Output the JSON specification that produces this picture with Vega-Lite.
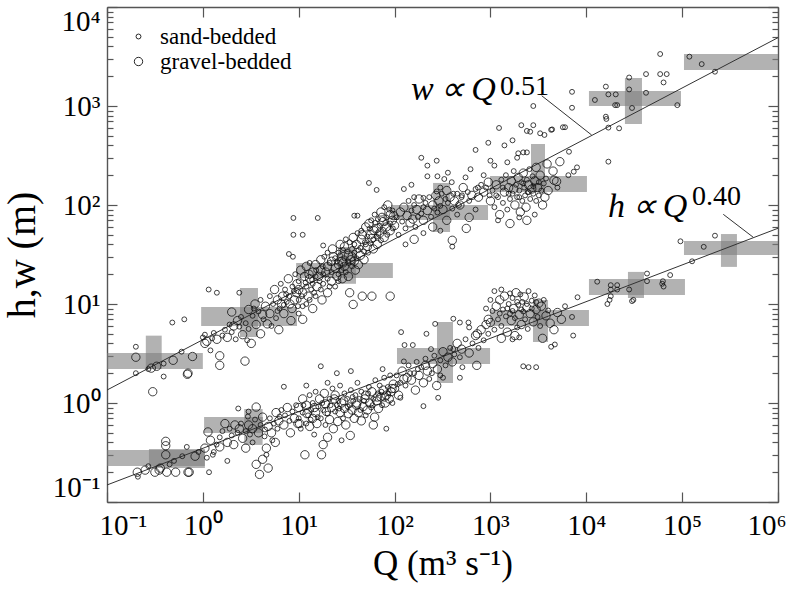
{
"$schema":"https://vega.github.io/schema/vega-lite/v6.json",
"width":671,"height":495,
"autosize":{"type":"none"},
"padding":{"left":107,"top":7,"right":10,"bottom":91},
"background":"white",
"config":{"view":{"stroke":null},"font":"Liberation Serif",
"axis":{"grid":false,"domainColor":"#555","domainWidth":1.4,"tickColor":"#555","tickWidth":1.2,"labelFont":"Liberation Serif","labelColor":"#000","labelFontSize":29,"titleFont":"Liberation Serif","titleColor":"#000","titleFontWeight":"normal","titleFontSize":35}},
"datasets":{
"bars":[
{"x1":0.1,"x2":1.0,"y1":2.2,"y2":3.2},{"x1":0.254,"x2":0.372,"y1":2.2,"y2":4.79},
{"x1":0.96,"x2":9.6,"y1":6.0,"y2":9.3},{"x1":2.44,"x2":3.76,"y1":4.64,"y2":14.5},
{"x1":9.4,"x2":96,"y1":18.3,"y2":25.9},{"x1":25.7,"x2":39.6,"y1":16,"y2":37.7},
{"x1":92,"x2":944,"y1":70.5,"y2":100},{"x1":252,"x2":379,"y1":53.4,"y2":167},
{"x1":991,"x2":10160,"y1":135,"y2":196},{"x1":2650,"x2":3710,"y1":135,"y2":413},
{"x1":10660,"x2":97300,"y1":1000,"y2":1418},{"x1":25300,"x2":38100,"y1":658,"y2":1918},
{"x1":104500,"x2":1000000,"y1":2310,"y2":3352},
{"x1":0.1,"x2":1.05,"y1":0.231,"y2":0.335},{"x1":0.274,"x2":1.05,"y1":0.221,"y2":0.343},
{"x1":1.03,"x2":4.24,"y1":0.498,"y2":0.722},{"x1":2.7,"x2":4.2,"y1":0.377,"y2":0.869},
{"x1":106,"x2":991,"y1":2.48,"y2":3.59},{"x1":277,"x2":407,"y1":1.59,"y2":6.58},
{"x1":991,"x2":10660,"y1":6.0,"y2":8.69},{"x1":2780,"x2":3990,"y1":4.13,"y2":11.0},
{"x1":10660,"x2":107000,"y1":12.3,"y2":17.9},{"x1":27200,"x2":40000,"y1":11.5,"y2":21.1},
{"x1":104500,"x2":1000000,"y1":31.3,"y2":43.3},{"x1":254000,"x2":373000,"y1":23.7,"y2":50.9}
],
"lines":[
{"x1":0.1,"y1":1.352,"x2":1000000,"y2":4900},
{"x1":0.1,"y1":0.1486,"x2":1000000,"y2":58.2},
{"x1":3427,"y1":1270,"x2":11380,"y2":509},
{"x1":268600,"y1":80.5,"x2":552000,"y2":47.2}
],
"lab":[{"q":148,"v":1150,"s":"w\u2009∝\u2009Q"},{"q":16870,"v":75.7,"s":"h\u2009∝\u2009Q"}],
"sup":[{"q":1260,"v":1291,"s":"0.51"},{"q":126800,"v":100,"s":"0.40"}],
"pts":[
{"q":0.2,"v":2.9,"t":"g"},{"q":0.2,"v":3.7,"t":"s"},{"q":0.2,"v":2.0,"t":"s"},{"q":0.29,"v":2.25,"t":"g"},{"q":0.33,"v":2.35,"t":"g"},{"q":0.39,"v":2.5,"t":"s"},{"q":0.39,"v":1.85,"t":"s"},{"q":0.49,"v":2.7,"t":"g"},{"q":0.6,"v":3.3,"t":"s"},{"q":0.78,"v":2.95,"t":"g"},{"q":0.69,"v":1.95,"t":"g"},{"q":0.7,"v":2.0,"t":"g"},{"q":0.3,"v":1.3,"t":"g"},{"q":0.48,"v":6.5,"t":"s"},{"q":0.64,"v":7.0,"t":"s"},{"q":0.27,"v":2.2,"t":"s"},
{"q":1.0,"v":4.6,"t":"s"},{"q":1.05,"v":4.9,"t":"s"},{"q":1.1,"v":4.2,"t":"g"},{"q":1.2,"v":3.4,"t":"s"},{"q":1.3,"v":5.1,"t":"s"},{"q":1.4,"v":4.4,"t":"g"},{"q":1.5,"v":3.0,"t":"g"},{"q":1.5,"v":2.4,"t":"g"},{"q":1.6,"v":4.8,"t":"s"},{"q":1.7,"v":5.5,"t":"s"},{"q":1.8,"v":4.6,"t":"g"},{"q":1.9,"v":6.2,"t":"s"},{"q":2.0,"v":8.3,"t":"g"},{"q":2.0,"v":5.2,"t":"s"},{"q":2.2,"v":4.4,"t":"s"},{"q":2.3,"v":6.8,"t":"g"},{"q":2.4,"v":5.9,"t":"s"},{"q":2.5,"v":7.4,"t":"s"},{"q":2.6,"v":4.9,"t":"g"},{"q":2.75,"v":2.65,"t":"g"},{"q":2.8,"v":6.4,"t":"s"},{"q":3.0,"v":8.8,"t":"g"},{"q":3.0,"v":5.6,"t":"s"},{"q":3.2,"v":4.0,"t":"g"},{"q":3.3,"v":7.6,"t":"s"},{"q":3.5,"v":10,"t":"g"},{"q":3.6,"v":6.2,"t":"g"},{"q":3.8,"v":8.4,"t":"s"},{"q":4.0,"v":5.0,"t":"g"},{"q":4.0,"v":11,"t":"s"},{"q":4.3,"v":7.0,"t":"s"},{"q":4.5,"v":9.5,"t":"g"},{"q":4.7,"v":6.3,"t":"g"},{"q":5.0,"v":12,"t":"s"},{"q":5.0,"v":8.0,"t":"g"},{"q":5.4,"v":10,"t":"s"},{"q":5.6,"v":14,"t":"g"},{"q":5.8,"v":7.2,"t":"s"},{"q":6.0,"v":11,"t":"g"},{"q":6.3,"v":9.0,"t":"s"},{"q":6.5,"v":16,"t":"s"},{"q":6.8,"v":12,"t":"g"},{"q":7.0,"v":8.0,"t":"g"},{"q":7.2,"v":14,"t":"s"},{"q":7.5,"v":10.5,"t":"s"},{"q":7.8,"v":18,"t":"g"},{"q":8.0,"v":12,"t":"s"},{"q":8.3,"v":6.8,"t":"g"},{"q":8.6,"v":15,"t":"s"},{"q":9.0,"v":11,"t":"g"},{"q":9.2,"v":20,"t":"s"},{"q":9.5,"v":13,"t":"g"},{"q":9.8,"v":9.5,"t":"s"},{"q":1.15,"v":14,"t":"s"},{"q":1.4,"v":13,"t":"s"},{"q":2.4,"v":13,"t":"s"},{"q":1.05,"v":4.0,"t":"g"},{"q":1.25,"v":4.5,"t":"s"},{"q":2.1,"v":6.0,"t":"g"},{"q":3.4,"v":9.0,"t":"s"},{"q":4.2,"v":7.8,"t":"g"},{"q":5.2,"v":6.0,"t":"s"},{"q":6.2,"v":5.5,"t":"g"},{"q":7.0,"v":9.8,"t":"s"},{"q":8.5,"v":9.0,"t":"g"},{"q":2.9,"v":4.3,"t":"s"},
{"q":6,"v":8.5,"t":"s"},{"q":6.6,"v":10,"t":"g"},{"q":7.4,"v":12.5,"t":"s"},{"q":8.1,"v":10,"t":"g"},{"q":8.9,"v":13.5,"t":"s"},{"q":9.6,"v":16,"t":"g"},{"q":10.8,"v":12,"t":"s"},{"q":11.8,"v":16.5,"t":"s"},{"q":12.8,"v":20,"t":"g"},{"q":13.8,"v":17.5,"t":"s"},{"q":15.2,"v":22,"t":"s"},{"q":16.2,"v":19,"t":"g"},{"q":17.8,"v":24,"t":"s"},{"q":19.2,"v":21,"t":"g"},{"q":21,"v":26,"t":"s"},{"q":23,"v":30,"t":"g"},{"q":25,"v":27,"t":"s"},{"q":27,"v":31,"t":"s"},{"q":29,"v":26,"t":"g"},{"q":32,"v":34,"t":"s"},{"q":35,"v":28,"t":"g"},{"q":38,"v":40,"t":"s"},{"q":42,"v":35,"t":"s"},{"q":46,"v":50,"t":"g"},{"q":50,"v":40,"t":"s"},{"q":55,"v":58,"t":"s"},{"q":58,"v":46,"t":"g"},{"q":63,"v":66,"t":"s"},{"q":68,"v":52,"t":"s"},{"q":74,"v":75,"t":"g"},{"q":80,"v":66,"t":"s"},{"q":88,"v":90,"t":"s"},{"q":98,"v":78,"t":"g"},
{"q":10,"v":8,"t":"s"},{"q":10,"v":11,"t":"s"},{"q":10,"v":14,"t":"g"},{"q":10,"v":17,"t":"s"},{"q":10.5,"v":22,"t":"g"},{"q":11,"v":9.5,"t":"s"},{"q":11,"v":13,"t":"g"},{"q":11.5,"v":19,"t":"g"},{"q":11,"v":7,"t":"g"},{"q":12,"v":10,"t":"s"},{"q":12,"v":15,"t":"s"},{"q":12,"v":24,"t":"g"},{"q":12.5,"v":12,"t":"g"},{"q":13,"v":11,"t":"s"},{"q":13,"v":18,"t":"g"},{"q":13.5,"v":14,"t":"s"},{"q":13,"v":26,"t":"s"},{"q":14,"v":9,"t":"g"},{"q":14,"v":16,"t":"s"},{"q":14,"v":21,"t":"g"},{"q":14.5,"v":13,"t":"s"},{"q":15,"v":12,"t":"s"},{"q":15,"v":19,"t":"s"},{"q":15,"v":25,"t":"g"},{"q":15.5,"v":15,"t":"g"},{"q":17,"v":14,"t":"s"},{"q":17,"v":22,"t":"g"},{"q":16.5,"v":17,"t":"s"},{"q":17,"v":28,"t":"g"},{"q":17.5,"v":11,"t":"g"},{"q":18,"v":16,"t":"s"},{"q":18,"v":20,"t":"s"},{"q":18.5,"v":30,"t":"s"},{"q":20,"v":13,"t":"g"},{"q":20,"v":18,"t":"s"},{"q":20,"v":24,"t":"g"},{"q":20,"v":33,"t":"s"},{"q":21,"v":15,"t":"s"},{"q":22,"v":17,"t":"g"},{"q":22,"v":21,"t":"s"},{"q":22,"v":27,"t":"g"},{"q":22.5,"v":36,"t":"g"},{"q":24,"v":15,"t":"s"},{"q":24,"v":23,"t":"g"},{"q":24,"v":29,"t":"s"},{"q":25,"v":19,"t":"g"},{"q":26,"v":20,"t":"s"},{"q":26,"v":25,"t":"g"},{"q":26,"v":33,"t":"s"},{"q":27,"v":40,"t":"g"},{"q":26,"v":17,"t":"s"},{"q":28,"v":22,"t":"s"},{"q":28,"v":27,"t":"g"},{"q":28.5,"v":18,"t":"g"},{"q":29,"v":35,"t":"s"},{"q":30,"v":24,"t":"g"},{"q":30,"v":29,"t":"s"},{"q":31,"v":21,"t":"s"},{"q":30,"v":38,"t":"g"},{"q":31,"v":45,"t":"s"},{"q":33,"v":19,"t":"g"},{"q":33,"v":26,"t":"s"},{"q":33,"v":31,"t":"g"},{"q":34,"v":42,"t":"s"},{"q":36,"v":24,"t":"s"},{"q":36,"v":30,"t":"g"},{"q":36,"v":36,"t":"s"},{"q":37,"v":47,"t":"g"},{"q":38,"v":27,"t":"g"},{"q":38,"v":33,"t":"s"},{"q":39,"v":22,"t":"g"},{"q":37,"v":9.9,"t":"g"},{"q":40,"v":29,"t":"s"},{"q":40,"v":40,"t":"g"},{"q":41,"v":52,"t":"s"},{"q":42,"v":25,"t":"g"},{"q":44,"v":31,"t":"g"},{"q":44,"v":37,"t":"s"},{"q":45,"v":45,"t":"g"},{"q":45,"v":55,"t":"s"},{"q":48,"v":34,"t":"s"},{"q":48,"v":28,"t":"g"},{"q":49,"v":42,"t":"s"},{"q":50,"v":60,"t":"g"},{"q":52,"v":38,"t":"g"},{"q":52,"v":48,"t":"s"},{"q":53,"v":33,"t":"s"},{"q":54,"v":65,"t":"g"},{"q":56,"v":41,"t":"s"},{"q":56,"v":50,"t":"g"},{"q":57,"v":70,"t":"s"},{"q":58,"v":12,"t":"g"},{"q":60,"v":36,"t":"g"},{"q":60,"v":45,"t":"s"},{"q":61,"v":55,"t":"g"},{"q":62,"v":80,"t":"s"},{"q":65,"v":48,"t":"s"},{"q":65,"v":58,"t":"g"},{"q":66,"v":40,"t":"g"},{"q":67,"v":72,"t":"s"},{"q":70,"v":52,"t":"g"},{"q":70,"v":62,"t":"s"},{"q":72,"v":44,"t":"s"},{"q":72,"v":85,"t":"g"},{"q":76,"v":56,"t":"s"},{"q":76,"v":68,"t":"g"},{"q":78,"v":47,"t":"g"},{"q":78,"v":95,"t":"s"},{"q":82,"v":60,"t":"g"},{"q":82,"v":75,"t":"s"},{"q":84,"v":50,"t":"s"},{"q":85,"v":100,"t":"g"},{"q":90,"v":65,"t":"s"},{"q":90,"v":55,"t":"g"},{"q":90,"v":80,"t":"g"},{"q":90,"v":12,"t":"g"},{"q":95,"v":70,"t":"g"},{"q":95,"v":88,"t":"s"},{"q":96,"v":58,"t":"s"},{"q":46,"v":12,"t":"g"},{"q":34,"v":13,"t":"g"},
{"q":8.8,"v":74,"t":"s"},{"q":8.8,"v":50,"t":"s"},{"q":11,"v":50,"t":"s"},{"q":15.8,"v":74,"t":"s"},{"q":18,"v":39,"t":"s"},{"q":7.9,"v":32,"t":"s"},{"q":8.7,"v":30,"t":"s"},{"q":38,"v":78,"t":"s"},{"q":41,"v":78,"t":"s"},{"q":54,"v":167,"t":"s"},{"q":65,"v":142,"t":"s"},
{"q":125,"v":145,"t":"s"},{"q":190,"v":300,"t":"s"},{"q":220,"v":250,"t":"s"},{"q":275,"v":280,"t":"s"},{"q":220,"v":195,"t":"s"},{"q":280,"v":195,"t":"s"},{"q":330,"v":183,"t":"s"},{"q":360,"v":212,"t":"s"},{"q":395,"v":170,"t":"s"},{"q":200,"v":118,"t":"s"},{"q":410,"v":130,"t":"s"},{"q":505,"v":125,"t":"s"},{"q":700,"v":360,"t":"s"},{"q":950,"v":425,"t":"s"},{"q":275,"v":137,"t":"s"},{"q":150,"v":160,"t":"s"},{"q":160,"v":120,"t":"s"},{"q":300,"v":150,"t":"s"},{"q":620,"v":230,"t":"s"},{"q":850,"v":200,"t":"s"},{"q":470,"v":100,"t":"s"},{"q":550,"v":190,"t":"s"},{"q":740,"v":150,"t":"s"},
{"q":100,"v":62,"t":"g"},{"q":105,"v":75,"t":"s"},{"q":110,"v":50,"t":"s"},{"q":115,"v":85,"t":"g"},{"q":120,"v":68,"t":"s"},{"q":125,"v":95,"t":"g"},{"q":130,"v":58,"t":"s"},{"q":135,"v":78,"t":"g"},{"q":140,"v":110,"t":"s"},{"q":145,"v":66,"t":"g"},{"q":150,"v":88,"t":"s"},{"q":155,"v":72,"t":"g"},{"q":160,"v":100,"t":"s"},{"q":165,"v":60,"t":"s"},{"q":170,"v":90,"t":"g"},{"q":175,"v":76,"t":"s"},{"q":180,"v":115,"t":"g"},{"q":190,"v":82,"t":"s"},{"q":200,"v":95,"t":"s"},{"q":200,"v":70,"t":"g"},{"q":210,"v":105,"t":"s"},{"q":220,"v":88,"t":"g"},{"q":230,"v":120,"t":"s"},{"q":240,"v":76,"t":"s"},{"q":250,"v":100,"t":"g"},{"q":260,"v":92,"t":"s"},{"q":270,"v":125,"t":"g"},{"q":280,"v":84,"t":"s"},{"q":290,"v":110,"t":"g"},{"q":300,"v":98,"t":"s"},{"q":310,"v":130,"t":"s"},{"q":320,"v":90,"t":"g"},{"q":340,"v":115,"t":"s"},{"q":350,"v":140,"t":"g"},{"q":360,"v":105,"t":"s"},{"q":380,"v":120,"t":"g"},{"q":400,"v":92,"t":"s"},{"q":400,"v":44,"t":"g"},{"q":400,"v":38,"t":"s"},{"q":420,"v":110,"t":"g"},{"q":450,"v":130,"t":"s"},{"q":480,"v":100,"t":"g"},{"q":500,"v":120,"t":"s"},{"q":520,"v":150,"t":"g"},{"q":560,"v":58,"t":"g"},{"q":580,"v":135,"t":"s"},{"q":600,"v":110,"t":"s"},{"q":640,"v":125,"t":"g"},{"q":700,"v":145,"t":"s"},{"q":750,"v":120,"t":"g"},{"q":800,"v":160,"t":"s"},{"q":850,"v":135,"t":"g"},{"q":900,"v":150,"t":"s"},{"q":950,"v":170,"t":"g"},{"q":980,"v":125,"t":"s"},{"q":130,"v":40,"t":"s"},{"q":160,"v":45,"t":"g"},{"q":200,"v":52,"t":"s"},{"q":250,"v":60,"t":"g"},{"q":300,"v":55,"t":"s"},{"q":350,"v":70,"t":"g"},{"q":450,"v":80,"t":"s"},{"q":600,"v":75,"t":"g"},{"q":700,"v":90,"t":"s"},
{"q":1000,"v":110,"t":"g"},{"q":1050,"v":140,"t":"s"},{"q":1100,"v":95,"t":"s"},{"q":1150,"v":160,"t":"g"},{"q":1200,"v":120,"t":"s"},{"q":1250,"v":80,"t":"g"},{"q":1300,"v":180,"t":"s"},{"q":1350,"v":105,"t":"s"},{"q":1400,"v":135,"t":"g"},{"q":1450,"v":200,"t":"s"},{"q":1500,"v":90,"t":"s"},{"q":1550,"v":150,"t":"g"},{"q":1600,"v":115,"t":"s"},{"q":1650,"v":175,"t":"g"},{"q":1700,"v":130,"t":"s"},{"q":1750,"v":220,"t":"s"},{"q":1800,"v":100,"t":"g"},{"q":1850,"v":160,"t":"s"},{"q":1900,"v":120,"t":"s"},{"q":1950,"v":190,"t":"g"},{"q":2000,"v":140,"t":"s"},{"q":2050,"v":85,"t":"g"},{"q":2100,"v":170,"t":"s"},{"q":2150,"v":110,"t":"s"},{"q":2200,"v":210,"t":"g"},{"q":2250,"v":150,"t":"s"},{"q":2300,"v":125,"t":"s"},{"q":2350,"v":95,"t":"g"},{"q":2400,"v":180,"t":"s"},{"q":2450,"v":135,"t":"s"},{"q":2500,"v":160,"t":"g"},{"q":2550,"v":230,"t":"s"},{"q":2600,"v":115,"t":"s"},{"q":2700,"v":145,"t":"g"},{"q":2750,"v":195,"t":"s"},{"q":2800,"v":130,"t":"s"},{"q":2900,"v":175,"t":"g"},{"q":3000,"v":110,"t":"s"},{"q":3100,"v":150,"t":"g"},{"q":3200,"v":125,"t":"s"},{"q":3300,"v":200,"t":"g"},{"q":3400,"v":140,"t":"s"},{"q":3500,"v":100,"t":"g"},{"q":3600,"v":165,"t":"s"},{"q":3700,"v":120,"t":"g"},{"q":3800,"v":185,"t":"s"},{"q":4000,"v":140,"t":"g"},{"q":1200,"v":70,"t":"s"},{"q":1600,"v":65,"t":"g"},{"q":2000,"v":75,"t":"s"},{"q":2400,"v":70,"t":"g"},{"q":2900,"v":80,"t":"s"},{"q":1100,"v":250,"t":"s"},{"q":1500,"v":270,"t":"s"},{"q":1900,"v":300,"t":"s"},{"q":1950,"v":333,"t":"s"},{"q":2200,"v":340,"t":"s"},{"q":2400,"v":340,"t":"s"},{"q":2600,"v":550,"t":"s"},{"q":2800,"v":640,"t":"s"},{"q":2100,"v":640,"t":"s"},{"q":2400,"v":560,"t":"s"},{"q":3300,"v":530,"t":"s"},{"q":3660,"v":510,"t":"s"},{"q":4300,"v":575,"t":"s"},{"q":5700,"v":610,"t":"s"},{"q":4400,"v":580,"t":"s"},{"q":6000,"v":610,"t":"s"},{"q":1230,"v":600,"t":"s"},{"q":2800,"v":1000,"t":"s"},{"q":7100,"v":1390,"t":"s"},{"q":7100,"v":960,"t":"s"},{"q":6600,"v":345,"t":"s"},{"q":7400,"v":217,"t":"s"},{"q":5300,"v":274,"t":"g"},{"q":4900,"v":173,"t":"g"},{"q":4600,"v":178,"t":"g"},{"q":8000,"v":240,"t":"s"},{"q":3000,"v":240,"t":"g"},{"q":3900,"v":260,"t":"g"},{"q":1400,"v":400,"t":"s"},{"q":1700,"v":450,"t":"s"},{"q":1000,"v":280,"t":"s"},{"q":4500,"v":220,"t":"g"},{"q":5000,"v":150,"t":"s"},{"q":6500,"v":200,"t":"s"},
{"q":1150,"v":125,"t":"s"},{"q":1350,"v":150,"t":"s"},{"q":1550,"v":130,"t":"s"},{"q":1750,"v":145,"t":"g"},{"q":2000,"v":120,"t":"s"},{"q":2200,"v":165,"t":"s"},{"q":2500,"v":135,"t":"s"},{"q":2800,"v":155,"t":"s"},{"q":3200,"v":170,"t":"s"},
{"q":16000,"v":1570,"t":"s"},{"q":12300,"v":1150,"t":"s"},{"q":17000,"v":1310,"t":"s"},{"q":20300,"v":1310,"t":"s"},{"q":20000,"v":1020,"t":"s"},{"q":21000,"v":1020,"t":"s"},{"q":28000,"v":1940,"t":"s"},{"q":28000,"v":1470,"t":"s"},{"q":30000,"v":955,"t":"s"},{"q":42000,"v":2100,"t":"s"},{"q":42000,"v":1360,"t":"s"},{"q":59000,"v":3350,"t":"s"},{"q":59000,"v":2100,"t":"s"},{"q":69000,"v":2100,"t":"s"},{"q":64000,"v":1730,"t":"s"},{"q":89000,"v":1020,"t":"s"},{"q":16000,"v":780,"t":"s"},{"q":16200,"v":740,"t":"s"},{"q":17000,"v":605,"t":"s"},{"q":22000,"v":595,"t":"s"},{"q":17000,"v":274,"t":"s"},{"q":119000,"v":3150,"t":"s"},{"q":160000,"v":2650,"t":"s"},{"q":220000,"v":2220,"t":"s"},
{"q":0.207,"v":0.2,"t":"g"},{"q":0.21,"v":0.18,"t":"s"},{"q":0.316,"v":0.2,"t":"g"},{"q":0.35,"v":0.21,"t":"g"},{"q":0.42,"v":0.2,"t":"g"},{"q":0.52,"v":0.2,"t":"g"},{"q":0.7,"v":0.2,"t":"g"},{"q":0.72,"v":0.2,"t":"g"},{"q":1.16,"v":0.2,"t":"s"},{"q":0.41,"v":0.41,"t":"g"},{"q":0.41,"v":0.37,"t":"g"},{"q":0.41,"v":0.3,"t":"g"},{"q":0.5,"v":0.26,"t":"s"},{"q":0.61,"v":0.29,"t":"s"},{"q":0.68,"v":0.36,"t":"s"},{"q":0.83,"v":0.29,"t":"g"},{"q":0.36,"v":0.22,"t":"g"},{"q":0.27,"v":0.23,"t":"s"},{"q":0.9,"v":0.32,"t":"s"},{"q":0.25,"v":0.21,"t":"g"},{"q":0.45,"v":0.24,"t":"s"},
{"q":1.13,"v":0.51,"t":"g"},{"q":1.27,"v":0.3,"t":"s"},{"q":1.39,"v":0.38,"t":"s"},{"q":1.7,"v":0.62,"t":"g"},{"q":2.16,"v":0.6,"t":"g"},{"q":2.95,"v":0.73,"t":"s"},{"q":3.6,"v":0.91,"t":"g"},{"q":4.45,"v":0.54,"t":"s"},{"q":3.6,"v":0.24,"t":"g"},{"q":4.6,"v":0.3,"t":"s"},{"q":4.6,"v":0.35,"t":"g"},{"q":2.34,"v":0.88,"t":"s"},{"q":3.3,"v":0.4,"t":"s"},{"q":6.3,"v":0.73,"t":"s"},{"q":1.05,"v":0.35,"t":"g"},{"q":1.1,"v":0.28,"t":"s"},{"q":1.2,"v":0.42,"t":"g"},{"q":1.3,"v":0.32,"t":"s"},{"q":1.5,"v":0.45,"t":"s"},{"q":1.5,"v":0.36,"t":"g"},{"q":1.6,"v":0.52,"t":"s"},{"q":1.8,"v":0.4,"t":"g"},{"q":1.9,"v":0.55,"t":"s"},{"q":2.0,"v":0.47,"t":"s"},{"q":2.1,"v":0.38,"t":"g"},{"q":2.3,"v":0.5,"t":"s"},{"q":2.4,"v":0.55,"t":"g"},{"q":2.5,"v":0.62,"t":"s"},{"q":2.6,"v":0.44,"t":"g"},{"q":2.8,"v":0.52,"t":"s"},{"q":3.0,"v":0.6,"t":"g"},{"q":3.1,"v":0.48,"t":"s"},{"q":3.3,"v":0.55,"t":"g"},{"q":3.5,"v":0.68,"t":"s"},{"q":3.8,"v":0.5,"t":"g"},{"q":4.0,"v":0.6,"t":"s"},{"q":4.2,"v":0.72,"t":"g"},{"q":4.4,"v":0.46,"t":"s"},{"q":4.8,"v":0.58,"t":"g"},{"q":5.0,"v":0.7,"t":"s"},{"q":5.2,"v":0.5,"t":"g"},{"q":5.5,"v":0.62,"t":"s"},{"q":5.8,"v":0.8,"t":"g"},{"q":6.0,"v":0.55,"t":"s"},{"q":6.2,"v":0.66,"t":"g"},{"q":6.6,"v":0.85,"t":"s"},{"q":7.0,"v":0.6,"t":"g"},{"q":7.2,"v":0.75,"t":"s"},{"q":7.6,"v":0.9,"t":"g"},{"q":8.0,"v":0.66,"t":"s"},{"q":8.2,"v":0.5,"t":"g"},{"q":8.6,"v":0.82,"t":"s"},{"q":9.0,"v":0.7,"t":"g"},{"q":9.4,"v":0.95,"t":"s"},{"q":9.8,"v":0.62,"t":"g"},{"q":4.2,"v":0.27,"t":"g"},{"q":4.8,"v":0.22,"t":"g"},{"q":3.9,"v":0.19,"t":"g"},{"q":5.3,"v":0.42,"t":"s"},{"q":5.7,"v":0.4,"t":"g"},{"q":7.0,"v":1.46,"t":"s"},{"q":2.8,"v":0.35,"t":"g"},{"q":1.8,"v":0.26,"t":"s"},{"q":3.0,"v":0.82,"t":"s"},
{"q":10,"v":0.7,"t":"s"},{"q":10,"v":0.9,"t":"g"},{"q":10.5,"v":0.55,"t":"s"},{"q":11,"v":1.1,"t":"g"},{"q":11,"v":0.8,"t":"s"},{"q":11.6,"v":0.3,"t":"g"},{"q":12,"v":0.62,"t":"s"},{"q":12,"v":0.95,"t":"g"},{"q":12.5,"v":0.75,"t":"s"},{"q":13,"v":1.2,"t":"s"},{"q":13,"v":0.58,"t":"g"},{"q":13.5,"v":0.85,"t":"s"},{"q":14,"v":0.7,"t":"g"},{"q":14,"v":1.0,"t":"s"},{"q":14.5,"v":0.48,"t":"s"},{"q":15,"v":0.8,"t":"g"},{"q":15,"v":1.3,"t":"s"},{"q":15.5,"v":0.62,"t":"g"},{"q":16,"v":0.92,"t":"s"},{"q":16.5,"v":1.1,"t":"g"},{"q":17,"v":0.7,"t":"s"},{"q":17.3,"v":0.3,"t":"g"},{"q":18,"v":0.38,"t":"g"},{"q":17,"v":2.35,"t":"s"},{"q":18,"v":0.85,"t":"s"},{"q":18.5,"v":1.25,"t":"g"},{"q":19,"v":0.6,"t":"s"},{"q":19,"v":0.98,"t":"g"},{"q":20,"v":1.6,"t":"s"},{"q":20,"v":0.78,"t":"s"},{"q":21,"v":0.68,"t":"g"},{"q":21,"v":1.1,"t":"s"},{"q":22,"v":0.9,"t":"g"},{"q":22.5,"v":1.4,"t":"s"},{"q":23,"v":0.55,"t":"g"},{"q":24,"v":0.82,"t":"s"},{"q":24,"v":1.2,"t":"g"},{"q":25,"v":0.95,"t":"s"},{"q":25.5,"v":0.65,"t":"g"},{"q":26,"v":1.05,"t":"s"},{"q":27,"v":0.8,"t":"g"},{"q":27,"v":1.5,"t":"s"},{"q":28,"v":1.0,"t":"g"},{"q":29,"v":0.7,"t":"s"},{"q":30,"v":0.88,"t":"g"},{"q":30,"v":1.25,"t":"s"},{"q":31,"v":0.6,"t":"g"},{"q":32,"v":1.1,"t":"s"},{"q":33,"v":0.78,"t":"g"},{"q":34,"v":0.95,"t":"s"},{"q":34.5,"v":0.47,"t":"g"},{"q":35,"v":1.35,"t":"s"},{"q":36,"v":0.85,"t":"g"},{"q":37,"v":1.05,"t":"s"},{"q":38,"v":0.7,"t":"g"},{"q":39,"v":1.2,"t":"s"},{"q":40,"v":0.95,"t":"g"},{"q":41,"v":1.6,"t":"s"},{"q":42,"v":0.8,"t":"g"},{"q":43,"v":1.1,"t":"s"},{"q":45,"v":0.66,"t":"g"},{"q":45,"v":1.3,"t":"s"},{"q":47,"v":0.92,"t":"g"},{"q":48,"v":1.05,"t":"s"},{"q":50,"v":1.2,"t":"g"},{"q":50,"v":0.75,"t":"s"},{"q":52,"v":0.85,"t":"g"},{"q":54,"v":1.45,"t":"s"},{"q":55,"v":1.0,"t":"g"},{"q":57,"v":0.9,"t":"s"},{"q":58,"v":1.3,"t":"g"},{"q":60,"v":1.1,"t":"s"},{"q":62,"v":0.72,"t":"g"},{"q":63,"v":1.7,"t":"s"},{"q":65,"v":1.05,"t":"g"},{"q":67,"v":1.25,"t":"s"},{"q":68,"v":0.88,"t":"g"},{"q":70,"v":1.5,"t":"s"},{"q":72,"v":1.15,"t":"g"},{"q":74,"v":0.95,"t":"s"},{"q":76,"v":1.35,"t":"g"},{"q":78,"v":1.8,"t":"s"},{"q":80,"v":1.0,"t":"g"},{"q":82,"v":0.55,"t":"s"},{"q":82,"v":1.2,"t":"g"},{"q":85,"v":1.45,"t":"s"},{"q":88,"v":1.1,"t":"g"},{"q":90,"v":1.9,"t":"s"},{"q":92,"v":1.3,"t":"g"},{"q":95,"v":1.0,"t":"s"},{"q":97,"v":1.55,"t":"g"},{"q":12,"v":1.5,"t":"s"},{"q":25,"v":2.0,"t":"s"},{"q":35,"v":2.1,"t":"s"},{"q":28,"v":0.42,"t":"s"},{"q":20,"v":0.45,"t":"g"},{"q":60,"v":0.6,"t":"g"},{"q":75,"v":2.2,"t":"s"},
{"q":10.2,"v":0.62,"t":"g"},{"q":11.2,"v":0.95,"t":"s"},{"q":12.2,"v":0.78,"t":"g"},{"q":13.3,"v":0.68,"t":"s"},{"q":14.6,"v":0.9,"t":"g"},{"q":15.8,"v":0.72,"t":"s"},{"q":17.6,"v":1.0,"t":"s"},{"q":19.5,"v":0.82,"t":"g"},{"q":21.5,"v":0.95,"t":"s"},{"q":23.5,"v":1.1,"t":"g"},{"q":26.5,"v":0.88,"t":"s"},{"q":29.5,"v":1.05,"t":"g"},{"q":32.5,"v":0.92,"t":"s"},{"q":36.5,"v":1.15,"t":"s"},{"q":40.5,"v":1.0,"t":"g"},{"q":44,"v":0.85,"t":"s"},{"q":49,"v":1.1,"t":"g"},{"q":53,"v":1.25,"t":"s"},{"q":59,"v":0.95,"t":"s"},{"q":66,"v":1.15,"t":"g"},{"q":73,"v":1.3,"t":"s"},{"q":79,"v":1.15,"t":"g"},{"q":86,"v":1.25,"t":"s"},{"q":94,"v":1.4,"t":"g"},{"q":108,"v":1.55,"t":"s"},{"q":125,"v":1.75,"t":"g"},{"q":145,"v":2.0,"t":"s"},{"q":175,"v":2.2,"t":"s"},{"q":210,"v":2.4,"t":"g"},{"q":245,"v":2.0,"t":"s"},
{"q":117,"v":5.2,"t":"s"},{"q":127,"v":3.85,"t":"s"},{"q":155,"v":3.85,"t":"s"},{"q":215,"v":5.0,"t":"s"},{"q":240,"v":3.5,"t":"s"},{"q":265,"v":6.3,"t":"s"},{"q":410,"v":7.1,"t":"s"},{"q":480,"v":6.5,"t":"s"},{"q":590,"v":6.5,"t":"s"},{"q":600,"v":5.8,"t":"s"},{"q":730,"v":5.0,"t":"g"},{"q":410,"v":3.5,"t":"s"},{"q":720,"v":2.4,"t":"g"},{"q":510,"v":2.3,"t":"s"},{"q":480,"v":1.8,"t":"s"},{"q":300,"v":1.9,"t":"s"},{"q":320,"v":1.8,"t":"s"},{"q":275,"v":1.5,"t":"g"},{"q":285,"v":1.13,"t":"s"},{"q":200,"v":0.93,"t":"s"},{"q":125,"v":2.63,"t":"s"},{"q":115,"v":1.13,"t":"s"},
{"q":100,"v":1.4,"t":"g"},{"q":105,"v":1.9,"t":"s"},{"q":110,"v":1.2,"t":"g"},{"q":115,"v":1.6,"t":"s"},{"q":120,"v":2.1,"t":"g"},{"q":130,"v":1.5,"t":"s"},{"q":135,"v":1.8,"t":"g"},{"q":140,"v":2.4,"t":"s"},{"q":150,"v":1.7,"t":"g"},{"q":160,"v":2.0,"t":"s"},{"q":165,"v":1.35,"t":"g"},{"q":170,"v":2.6,"t":"s"},{"q":180,"v":1.9,"t":"g"},{"q":190,"v":2.3,"t":"s"},{"q":200,"v":1.6,"t":"g"},{"q":210,"v":2.8,"t":"s"},{"q":220,"v":2.1,"t":"g"},{"q":230,"v":1.75,"t":"s"},{"q":250,"v":2.5,"t":"g"},{"q":260,"v":3.0,"t":"s"},{"q":280,"v":2.2,"t":"g"},{"q":300,"v":2.7,"t":"s"},{"q":320,"v":3.3,"t":"g"},{"q":340,"v":2.4,"t":"s"},{"q":360,"v":2.9,"t":"g"},{"q":380,"v":3.6,"t":"s"},{"q":400,"v":2.6,"t":"g"},{"q":420,"v":3.1,"t":"s"},{"q":450,"v":4.0,"t":"g"},{"q":480,"v":2.9,"t":"s"},{"q":500,"v":3.5,"t":"g"},{"q":550,"v":4.4,"t":"s"},{"q":600,"v":3.2,"t":"g"},{"q":650,"v":4.0,"t":"s"},{"q":700,"v":4.8,"t":"g"},{"q":750,"v":3.6,"t":"s"},{"q":800,"v":5.5,"t":"g"},{"q":850,"v":4.3,"t":"s"},{"q":900,"v":6.2,"t":"g"},{"q":950,"v":5.0,"t":"s"},
{"q":1000,"v":6.5,"t":"g"},{"q":1050,"v":8.5,"t":"s"},{"q":1100,"v":5.5,"t":"s"},{"q":1150,"v":9.5,"t":"g"},{"q":1200,"v":7.0,"t":"s"},{"q":1250,"v":11,"t":"g"},{"q":1300,"v":6.0,"t":"s"},{"q":1350,"v":8.8,"t":"s"},{"q":1400,"v":12,"t":"g"},{"q":1450,"v":7.5,"t":"s"},{"q":1500,"v":5.2,"t":"g"},{"q":1550,"v":10,"t":"s"},{"q":1600,"v":8.0,"t":"s"},{"q":1650,"v":6.8,"t":"g"},{"q":1700,"v":11.5,"t":"s"},{"q":1750,"v":9.0,"t":"g"},{"q":1800,"v":7.2,"t":"s"},{"q":1850,"v":13,"t":"g"},{"q":1900,"v":5.8,"t":"s"},{"q":1950,"v":9.8,"t":"s"},{"q":2000,"v":7.8,"t":"g"},{"q":2050,"v":12.5,"t":"s"},{"q":2100,"v":6.2,"t":"g"},{"q":2150,"v":10.5,"t":"s"},{"q":2200,"v":8.4,"t":"s"},{"q":2250,"v":11.8,"t":"g"},{"q":2300,"v":7.0,"t":"s"},{"q":2400,"v":9.2,"t":"g"},{"q":2450,"v":5.6,"t":"s"},{"q":2500,"v":13.5,"t":"s"},{"q":2600,"v":8.0,"t":"g"},{"q":2700,"v":10.8,"t":"s"},{"q":2800,"v":6.6,"t":"g"},{"q":2900,"v":12.2,"t":"s"},{"q":3000,"v":8.8,"t":"g"},{"q":3100,"v":7.4,"t":"s"},{"q":3200,"v":10.2,"t":"g"},{"q":3300,"v":6.0,"t":"s"},{"q":3400,"v":9.5,"t":"g"},{"q":3600,"v":11,"t":"s"},{"q":3800,"v":7.6,"t":"g"},{"q":4000,"v":8.6,"t":"s"},{"q":4200,"v":6.4,"t":"g"},{"q":1100,"v":13.5,"t":"s"},{"q":1300,"v":14,"t":"s"},{"q":1600,"v":12.8,"t":"s"},{"q":1700,"v":4.4,"t":"s"},{"q":1800,"v":4.8,"t":"g"},{"q":2000,"v":4.6,"t":"s"},{"q":1300,"v":4.5,"t":"g"},{"q":2200,"v":2.35,"t":"s"},{"q":2500,"v":2.3,"t":"s"},{"q":3000,"v":2.3,"t":"s"},{"q":4300,"v":3.7,"t":"s"},{"q":7100,"v":7.4,"t":"s"},{"q":7300,"v":4.8,"t":"s"},{"q":5500,"v":7.0,"t":"g"},{"q":8100,"v":11.7,"t":"s"},{"q":4700,"v":3.9,"t":"s"},{"q":4600,"v":5.5,"t":"g"},{"q":5000,"v":8.2,"t":"g"},{"q":6000,"v":9.5,"t":"s"},{"q":3500,"v":4.5,"t":"g"},{"q":900,"v":9.0,"t":"s"},{"q":950,"v":7.0,"t":"g"},{"q":1000,"v":11,"t":"s"},
{"q":1500,"v":9.0,"t":"s"},{"q":1700,"v":8.5,"t":"s"},{"q":1900,"v":10.5,"t":"s"},{"q":2100,"v":8.8,"t":"s"},{"q":2400,"v":10,"t":"s"},{"q":2700,"v":9.0,"t":"s"},{"q":1250,"v":8.0,"t":"s"},{"q":3000,"v":10.5,"t":"s"},
{"q":13000,"v":16.8,"t":"s"},{"q":18000,"v":15.5,"t":"s"},{"q":18000,"v":14,"t":"s"},{"q":18000,"v":12,"t":"s"},{"q":16600,"v":10.0,"t":"s"},{"q":17500,"v":11,"t":"s"},{"q":21000,"v":15.5,"t":"s"},{"q":21000,"v":14,"t":"s"},{"q":28000,"v":14,"t":"s"},{"q":30000,"v":10.7,"t":"s"},{"q":31000,"v":11,"t":"s"},{"q":43000,"v":20.3,"t":"s"},{"q":43000,"v":17,"t":"s"},{"q":63000,"v":17,"t":"s"},{"q":64000,"v":15,"t":"s"},{"q":62000,"v":16,"t":"s"},{"q":75000,"v":19.6,"t":"s"},{"q":127000,"v":27,"t":"s"},{"q":96000,"v":43,"t":"s"},{"q":168000,"v":37.8,"t":"s"},{"q":220000,"v":49,"t":"s"}
]},
"resolve":{"axis":{"x":"independent","y":"independent"}},
"layer":[
{"data":{"name":"bars"},
 "mark":{"type":"rect","fill":"#7f7f7f","opacity":0.6},
 "encoding":{
  "x":{"field":"x1","type":"quantitative","scale":{"type":"log","domain":[0.1,1000000],"nice":false},
   "axis":{"orient":"bottom","values":[0.1,1,10,100,1000,10000,100000,1000000],"tickSize":-10,"labelPadding":19,"labelFlush":true,"labelFlushOffset":8,
    "labelExpr":"datum.value < 0.5 ? '10⁻¹' : datum.value < 5 ? '10⁰' : datum.value < 50 ? '10¹' : datum.value < 500 ? '10²' : datum.value < 5000 ? '10³' : datum.value < 50000 ? '10⁴' : datum.value < 500000 ? '10⁵' : '10⁶'",
    "title":"Q (m³ s⁻¹)","titlePadding":6}},
  "x2":{"field":"x2"},
  "y":{"field":"y1","type":"quantitative","scale":{"type":"log","domain":[0.1,10000],"nice":false},
   "axis":{"orient":"left","values":[0.1,1,10,100,1000,10000],"tickSize":-10,"labelPadding":17,"labelFlush":true,
    "labelExpr":"datum.value < 0.5 ? '10⁻¹' : datum.value < 5 ? '10⁰' : datum.value < 50 ? '10¹' : datum.value < 500 ? '10²' : datum.value < 5000 ? '10³' : '10⁴'",
    "title":"h,w (m)","titlePadding":10,"titleFontSize":40}},
  "y2":{"field":"y2"}}},
{"data":{"name":"lines"},
 "mark":{"type":"rule","color":"#333","strokeWidth":1},
 "encoding":{
  "x":{"field":"x1","type":"quantitative","scale":{"type":"log","domain":[0.1,1000000],"nice":false},
   "axis":{"orient":"top","values":[0.1,1,10,100,1000,10000,100000,1000000],"tickSize":-10,"labels":false,"title":null}},
  "x2":{"field":"x2"},
  "y":{"field":"y1","type":"quantitative","scale":{"type":"log","domain":[0.1,10000],"nice":false},
   "axis":{"orient":"left","domain":false,"values":[0.2,0.3,0.4,0.5,0.6,0.7,0.8,0.9,2,3,4,5,6,7,8,9,20,30,40,50,60,70,80,90,200,300,400,500,600,700,800,900,2000,3000,4000,5000,6000,7000,8000,9000],"tickSize":-6,"labels":false,"title":null}},
  "y2":{"field":"y2"}}},
{"data":{"name":"pts"},
 "mark":{"type":"point","shape":"circle","filled":false,"color":"#111","strokeWidth":0.8,"opacity":1},
 "encoding":{
  "x":{"field":"q","type":"quantitative","scale":{"type":"log","domain":[0.1,1000000],"nice":false},"axis":null},
  "y":{"field":"v","type":"quantitative","scale":{"type":"log","domain":[0.1,10000],"nice":false},
   "axis":{"orient":"right","values":[0.1,1,10,100,1000,10000],"tickSize":-10,"labels":false,"title":null}},
  "size":{"field":"t","type":"ordinal","scale":{"domain":["s","g"],"range":[24,70]},
   "legend":{"orient":"none","legendX":20,"legendY":18,"title":null,"padding":0,"rowPadding":1,"labelOffset":10,
    "labelFont":"Liberation Serif","labelFontSize":23,"labelColor":"#000","labelLimit":300,
    "symbolType":"circle","symbolStrokeColor":"#111","symbolStrokeWidth":0.9,"symbolFillColor":"transparent",
    "labelExpr":"datum.label == 's' ? 'sand-bedded' : 'gravel-bedded'"}}}},
{"data":{"name":"lab"},
 "mark":{"type":"text","font":"Liberation Serif","fontStyle":"italic","fontSize":34,"align":"left","baseline":"alphabetic","color":"#000"},
 "encoding":{
  "x":{"field":"q","type":"quantitative","scale":{"type":"log","domain":[0.1,1000000],"nice":false},"axis":null},
  "y":{"field":"v","type":"quantitative","scale":{"type":"log","domain":[0.1,10000],"nice":false},
   "axis":{"orient":"right","domain":false,"values":[0.2,0.3,0.4,0.5,0.6,0.7,0.8,0.9,2,3,4,5,6,7,8,9,20,30,40,50,60,70,80,90,200,300,400,500,600,700,800,900,2000,3000,4000,5000,6000,7000,8000,9000],"tickSize":-6,"labels":false,"title":null}},
  "text":{"field":"s"}}},
{"data":{"name":"sup"},
 "mark":{"type":"text","font":"Liberation Serif","fontSize":28,"align":"left","baseline":"alphabetic","color":"#000"},
 "encoding":{
  "x":{"field":"q","type":"quantitative","scale":{"type":"log","domain":[0.1,1000000],"nice":false},"axis":null},
  "y":{"field":"v","type":"quantitative","scale":{"type":"log","domain":[0.1,10000],"nice":false},"axis":null},
  "text":{"field":"s"}}}
]
}
